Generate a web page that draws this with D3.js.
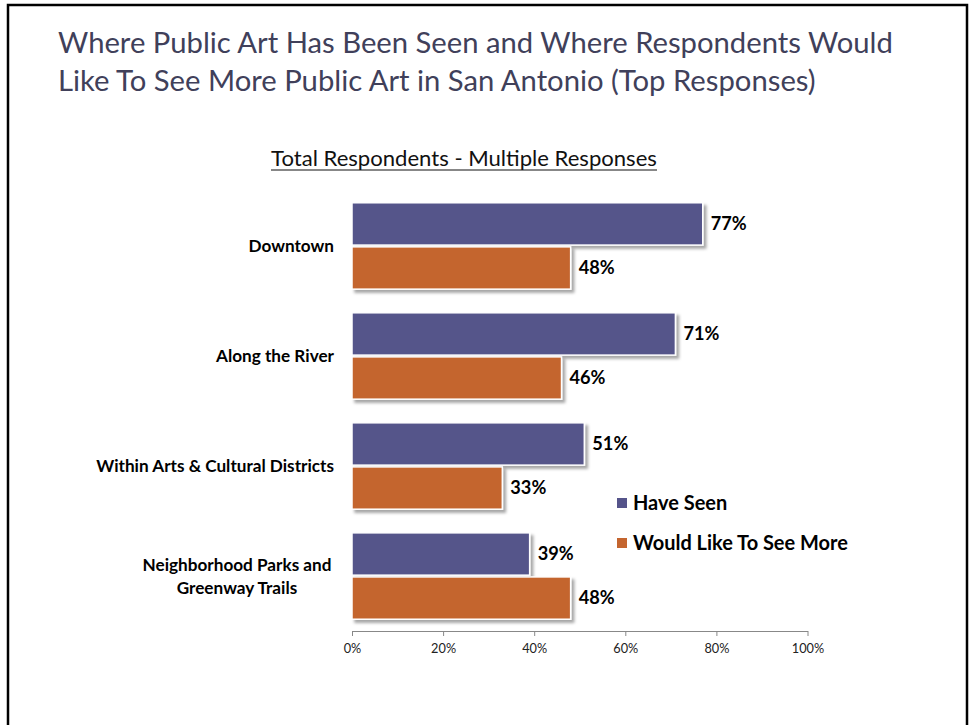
<!DOCTYPE html>
<html>
<head>
<meta charset="utf-8">
<script src="https://cdn.jsdelivr.net/npm/d3@7"></script>
<style>
  html, body { margin: 0; padding: 0; background: #fff; }
  svg { display: block; }
</style>
</head>
<body>
<svg id="chart" width="969" height="725"></svg>
<script>
const categories = ["Downtown", "Along the River", "Within Arts & Cultural Districts", "Neighborhood Parks and\nGreenway Trails"];
const seriesNames = ["Have Seen", "Would Like To See More"];
const haveSeen = [77, 71, 51, 39];
const wouldLike = [48, 46, 33, 48];
const tickValues = [0, 20, 40, 60, 80, 100];
const titleLines = ["Where Public Art Has Been Seen and Where Respondents Would", "Like To See More Public Art in San Antonio (Top Responses)"];
const subtitle = "Total Respondents - Multiple Responses";

const colors = ["#55548A", "#C4652F"];
const svg = d3.select("#chart");
const font = "Lato, 'Open Sans', sans-serif";

// frame
svg.append("path")
  .attr("d", "M8,740 L8,5 L967,5 L967,740")
  .attr("fill", "none").attr("stroke", "#000").attr("stroke-width", 2.5);

// fit text width helper: returns fitted font-size
function fitSize(text, size, weight, target) {
  const tmp = svg.append("text").attr("font-family", font).attr("font-size", size)
    .attr("font-weight", weight).text(text);
  const w = tmp.node().getComputedTextLength();
  tmp.remove();
  return size * target / w;
}

const titleSize = fitSize(titleLines[0], 26, "normal", 835);
titleLines.forEach((l, i) => {
  svg.append("text").attr("x", 58).attr("y", 53 + i * 38).attr("font-family", font)
    .attr("font-size", titleSize).attr("fill", "#40405A").text(l);
});

const stSize = fitSize(subtitle, 17, "normal", 386);
svg.append("text").attr("x", 464).attr("y", 166).attr("text-anchor", "middle")
  .attr("font-family", font).attr("font-size", stSize).attr("fill", "#111").text(subtitle);
svg.append("line").attr("x1", 271).attr("x2", 657).attr("y1", 170).attr("y2", 170)
  .attr("stroke", "#111").attr("stroke-width", 1.2);

// scales
const x = d3.scaleLinear().domain([0, 100]).range([352, 807.5]);
const y = d3.scaleBand().domain(categories).range([191, 631]).paddingInner(0.215).paddingOuter(0.107);
const y1 = d3.scaleBand().domain(seriesNames).range([0, y.bandwidth()]).paddingInner(0.04);

const data = categories.map((c, i) => ({ c, vals: [haveSeen[i], wouldLike[i]] }));

const defs = svg.append("defs");
const f = defs.append("filter").attr("id", "sh").attr("x", "-10%").attr("y", "-20%").attr("width", "130%").attr("height", "160%");
f.append("feDropShadow").attr("dx", 3).attr("dy", 3).attr("stdDeviation", 1.5).attr("flood-color", "#000").attr("flood-opacity", 0.35);

const valSize = fitSize("77%", 16, "bold", 36);
const g = svg.append("g");
data.forEach(d => {
  d.vals.forEach((v, j) => {
    const yy = y(d.c) + y1(seriesNames[j]);
    g.append("rect")
      .attr("x", x(0)).attr("y", yy)
      .attr("width", x(v) - x(0)).attr("height", y1.bandwidth())
      .attr("fill", colors[j]).attr("stroke", "#fff").attr("stroke-width", 1.5)
      .attr("filter", "url(#sh)");
    g.append("text")
      .attr("x", x(v) + 8).attr("y", yy + y1.bandwidth() / 2)
      .attr("dy", "0.35em")
      .attr("font-family", font).attr("font-weight", "bold").attr("font-size", valSize)
      .attr("fill", "#000").text(v + "%");
  });
});

// category labels
const catSize = fitSize("Within Arts & Cultural Districts", 14, "bold", 238);
data.forEach(d => {
  const lines = d.c.split("\n");
  const cy = y(d.c) + y.bandwidth() / 2;
  const lh = 23;
  const tx = svg.append("text").attr("font-family", font).attr("font-weight", "bold")
    .attr("font-size", catSize).attr("fill", "#000").attr("text-anchor", lines.length > 1 ? "middle" : "end");
  lines.forEach((l, k) => {
    tx.append("tspan")
      .attr("x", lines.length > 1 ? 237 : 334)
      .attr("y", cy + (k - (lines.length - 1) / 2) * lh)
      .attr("dy", "0.35em").text(l);
  });
});

// axis
const tickSize = fitSize("20%", 12, "normal", 25);
const axis = svg.append("g").attr("transform", "translate(0,631)")
  .call(d3.axisBottom(x).tickValues(tickValues).tickFormat(d => d + "%").tickSize(5).tickSizeOuter(0));
axis.select(".domain").attr("stroke", "#888");
axis.selectAll(".tick line").attr("stroke", "#888");
axis.selectAll(".tick text").attr("font-family", font).attr("font-size", tickSize).attr("fill", "#222").attr("dy", "1.1em");

// legend
const legSize = fitSize("Would Like To See More", 17, "bold", 215);
const leg = svg.append("g");
seriesNames.forEach((s, i) => {
  const ly = 503 + i * 40;
  leg.append("rect").attr("x", 617).attr("y", ly - 5).attr("width", 10).attr("height", 10).attr("fill", colors[i]);
  leg.append("text").attr("x", 633).attr("y", ly).attr("dy", "0.35em")
    .attr("font-family", font).attr("font-weight", "bold").attr("font-size", legSize)
    .attr("fill", "#000").text(s);
});
</script>
</body>
</html>
